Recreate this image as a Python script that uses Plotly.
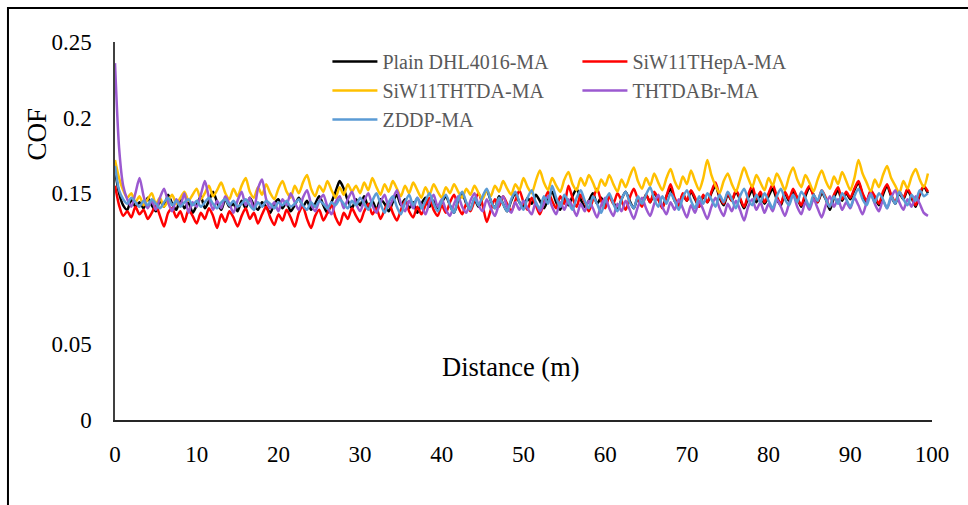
import plotly.graph_objects as go

# Sliding distance, sampled every 0.5 m
distance_m = [i * 0.5 for i in range(200)]

series_names = ["Plain DHL4016-MA", "SiW11THepA-MA", "SiW11THTDA-MA", "THTDABr-MA", "ZDDP-MA"]
series_colors = ["#000000", "#FF0000", "#FFC000", "#9B59D0", "#5B9BD5"]
# which legend column each series is listed in
series_legend = ["legend", "legend2", "legend", "legend2", "legend"]

cof_plain = [
    0.165, 0.150, 0.142, 0.139, 0.146, 0.141, 0.144, 0.140, 0.147, 0.142, 0.138, 0.145, 0.141, 0.149, 0.143, 0.139, 0.146, 0.140, 0.144, 0.137,
    0.142, 0.148, 0.140, 0.145, 0.151, 0.144, 0.139, 0.146, 0.141, 0.143, 0.138, 0.145, 0.140, 0.147, 0.142, 0.139, 0.144, 0.141, 0.137, 0.143,
    0.146, 0.140, 0.144, 0.138, 0.142, 0.147, 0.141, 0.145, 0.139, 0.143, 0.148, 0.142, 0.137, 0.144, 0.151, 0.158, 0.153, 0.145, 0.140, 0.146,
    0.142, 0.148, 0.141, 0.145, 0.139, 0.146, 0.143, 0.138, 0.144, 0.149, 0.142, 0.146, 0.140, 0.144, 0.137, 0.143, 0.147, 0.141, 0.145, 0.139,
    0.144, 0.148, 0.142, 0.137, 0.145, 0.150, 0.143, 0.139, 0.146, 0.141, 0.147, 0.152, 0.145, 0.140, 0.148, 0.143, 0.138, 0.145, 0.150, 0.144,
    0.141, 0.147, 0.143, 0.149, 0.145, 0.140, 0.146, 0.151, 0.144, 0.139, 0.147, 0.142, 0.148, 0.153, 0.146, 0.141, 0.145, 0.150, 0.143, 0.147,
    0.142, 0.148, 0.144, 0.139, 0.146, 0.151, 0.145, 0.140, 0.147, 0.143, 0.149, 0.144, 0.150, 0.146, 0.141, 0.148, 0.153, 0.145, 0.142, 0.149,
    0.145, 0.151, 0.146, 0.141, 0.148, 0.144, 0.150, 0.155, 0.147, 0.142, 0.149, 0.145, 0.151, 0.146, 0.140, 0.147, 0.152, 0.144, 0.149, 0.143,
    0.148, 0.153, 0.146, 0.142, 0.150, 0.145, 0.151, 0.147, 0.141, 0.148, 0.154, 0.149, 0.144, 0.150, 0.146, 0.139, 0.147, 0.152, 0.145, 0.150,
    0.146, 0.152, 0.157, 0.149, 0.144, 0.151, 0.147, 0.142, 0.149, 0.155, 0.148, 0.143, 0.150, 0.146, 0.152, 0.147, 0.141, 0.149, 0.154, 0.150,
]

cof_hepa = [
    0.155, 0.142, 0.135, 0.138, 0.134, 0.141, 0.136, 0.139, 0.133, 0.137, 0.142, 0.135, 0.128, 0.137, 0.140, 0.134, 0.138, 0.131, 0.139, 0.135,
    0.130, 0.137, 0.133, 0.140, 0.135, 0.127, 0.136, 0.131, 0.138, 0.134, 0.128, 0.135, 0.140, 0.133, 0.137, 0.130, 0.136, 0.141, 0.134, 0.129,
    0.136, 0.132, 0.139, 0.134, 0.128, 0.137, 0.141, 0.133, 0.127, 0.135, 0.139, 0.132, 0.137, 0.142, 0.134, 0.129, 0.137, 0.133, 0.140, 0.135,
    0.131, 0.138, 0.143, 0.136, 0.140, 0.133, 0.139, 0.144, 0.137, 0.132, 0.139, 0.145, 0.138, 0.134, 0.141, 0.136, 0.142, 0.147, 0.139, 0.135,
    0.142, 0.137, 0.144, 0.149, 0.141, 0.136, 0.143, 0.138, 0.145, 0.150, 0.142, 0.131, 0.139, 0.146, 0.141, 0.148, 0.143, 0.138, 0.145, 0.152,
    0.144, 0.139, 0.147, 0.142, 0.136, 0.144, 0.151, 0.145, 0.140, 0.148, 0.143, 0.155, 0.147, 0.141, 0.149, 0.144, 0.138, 0.146, 0.153, 0.145,
    0.140, 0.148, 0.143, 0.150, 0.145, 0.139, 0.147, 0.153, 0.146, 0.141, 0.149, 0.144, 0.151, 0.146, 0.140, 0.148, 0.156, 0.147, 0.142, 0.150,
    0.145, 0.152, 0.147, 0.141, 0.149, 0.144, 0.151, 0.157, 0.148, 0.143, 0.150, 0.145, 0.152, 0.147, 0.141, 0.149, 0.155, 0.146, 0.151, 0.144,
    0.150, 0.156, 0.148, 0.143, 0.151, 0.146, 0.153, 0.147, 0.142, 0.150, 0.155, 0.148, 0.144, 0.152, 0.147, 0.141, 0.149, 0.154, 0.146, 0.151,
    0.147, 0.153, 0.158, 0.150, 0.145, 0.152, 0.148, 0.143, 0.151, 0.156, 0.149, 0.144, 0.151, 0.147, 0.153, 0.148, 0.142, 0.150, 0.155, 0.151,
]

cof_thtda = [
    0.172, 0.160, 0.152, 0.147, 0.150, 0.144, 0.148, 0.142, 0.146, 0.150, 0.143, 0.147, 0.141, 0.145, 0.149, 0.143, 0.147, 0.151, 0.145, 0.149,
    0.153, 0.146, 0.150, 0.155, 0.148, 0.152, 0.157, 0.150, 0.146, 0.153, 0.148, 0.155, 0.160, 0.151, 0.147, 0.154, 0.149, 0.156, 0.150, 0.146,
    0.153, 0.158, 0.151, 0.147, 0.155, 0.150, 0.157, 0.162, 0.153, 0.148, 0.155, 0.151, 0.158, 0.152, 0.147, 0.154, 0.149, 0.156, 0.151, 0.155,
    0.150, 0.157, 0.152, 0.160, 0.154, 0.149, 0.156, 0.151, 0.158, 0.153, 0.148, 0.155, 0.150, 0.157, 0.152, 0.147, 0.154, 0.149, 0.156, 0.151,
    0.147, 0.154, 0.150, 0.156, 0.151, 0.147, 0.153, 0.149, 0.155, 0.150, 0.146, 0.152, 0.148, 0.155, 0.151, 0.158, 0.153, 0.149, 0.156, 0.152,
    0.160, 0.154, 0.150, 0.158, 0.165, 0.157, 0.152, 0.160, 0.155, 0.151, 0.159, 0.164, 0.156, 0.152, 0.160, 0.155, 0.162, 0.157, 0.151, 0.159,
    0.155, 0.162, 0.156, 0.151, 0.159, 0.154, 0.161, 0.167, 0.158, 0.153, 0.160, 0.155, 0.163, 0.157, 0.152, 0.160, 0.166, 0.158, 0.153, 0.161,
    0.156, 0.165, 0.158, 0.152, 0.160, 0.172, 0.162, 0.155, 0.150, 0.158, 0.163, 0.156, 0.151, 0.159, 0.167, 0.160, 0.154, 0.162, 0.157, 0.152,
    0.160, 0.155, 0.163, 0.158, 0.152, 0.161, 0.167, 0.159, 0.154, 0.162, 0.157, 0.151, 0.159, 0.165, 0.158, 0.153, 0.161, 0.156, 0.164, 0.158,
    0.152, 0.160, 0.172, 0.163, 0.157, 0.151, 0.159, 0.154, 0.162, 0.168, 0.160, 0.155, 0.150, 0.158, 0.153, 0.161, 0.166, 0.159, 0.154, 0.163,
]

cof_thtdabr = [
    0.236, 0.180, 0.155, 0.146, 0.141, 0.150, 0.160, 0.148, 0.140, 0.145, 0.139, 0.147, 0.153, 0.144, 0.138, 0.146, 0.142, 0.150, 0.137, 0.144,
    0.141, 0.149, 0.158, 0.147, 0.139, 0.145, 0.140, 0.148, 0.143, 0.137, 0.145, 0.151, 0.142, 0.147, 0.139, 0.153, 0.159, 0.146, 0.140, 0.144,
    0.138, 0.146, 0.142, 0.150, 0.144, 0.139, 0.147, 0.152, 0.143, 0.138, 0.145, 0.149, 0.141, 0.136, 0.144, 0.148, 0.140, 0.146, 0.151, 0.143,
    0.138, 0.145, 0.150, 0.142, 0.137, 0.144, 0.149, 0.141, 0.146, 0.152, 0.143, 0.138, 0.145, 0.140, 0.147, 0.142, 0.136, 0.144, 0.149, 0.141,
    0.146, 0.139, 0.135, 0.143, 0.148, 0.141, 0.137, 0.145, 0.150, 0.142, 0.138, 0.146, 0.140, 0.135, 0.143, 0.148, 0.141, 0.137, 0.144, 0.139,
    0.145, 0.140, 0.136, 0.144, 0.138, 0.143, 0.148, 0.141, 0.136, 0.144, 0.139, 0.146, 0.141, 0.135, 0.143, 0.138, 0.145, 0.140, 0.134, 0.142,
    0.147, 0.140, 0.135, 0.143, 0.138, 0.145, 0.139, 0.133, 0.141, 0.147, 0.140, 0.135, 0.143, 0.149, 0.141, 0.136, 0.144, 0.139, 0.146, 0.140,
    0.134, 0.142, 0.137, 0.145, 0.139, 0.133, 0.141, 0.147, 0.140, 0.135, 0.143, 0.138, 0.145, 0.139, 0.132, 0.141, 0.146, 0.139, 0.144, 0.137,
    0.143, 0.138, 0.146, 0.141, 0.135, 0.143, 0.149, 0.141, 0.136, 0.144, 0.139, 0.146, 0.140, 0.134, 0.142, 0.148, 0.141, 0.146, 0.139, 0.144,
    0.140, 0.147, 0.142, 0.136, 0.144, 0.150, 0.143, 0.138, 0.145, 0.140, 0.147, 0.152, 0.144, 0.139, 0.146, 0.141, 0.148, 0.143, 0.137, 0.135,
]

cof_zddp = [
    0.168, 0.152, 0.146, 0.143, 0.147, 0.144, 0.141, 0.145, 0.142, 0.146, 0.143, 0.140, 0.144, 0.147, 0.142, 0.145, 0.141, 0.144, 0.146, 0.142,
    0.145, 0.141, 0.144, 0.147, 0.143, 0.140, 0.144, 0.146, 0.142, 0.145, 0.141, 0.143, 0.146, 0.142, 0.139, 0.144, 0.141, 0.145, 0.143, 0.140,
    0.144, 0.142, 0.145, 0.141, 0.143, 0.146, 0.142, 0.139, 0.144, 0.141, 0.145, 0.143, 0.140, 0.144, 0.142, 0.146, 0.143, 0.140, 0.145, 0.142,
    0.147, 0.143, 0.139, 0.145, 0.150, 0.143, 0.137, 0.144, 0.148, 0.141, 0.136, 0.144, 0.149, 0.142, 0.147, 0.140, 0.145, 0.150, 0.143, 0.138,
    0.145, 0.149, 0.142, 0.137, 0.146, 0.151, 0.144, 0.139, 0.147, 0.142, 0.148, 0.153, 0.145, 0.140, 0.147, 0.143, 0.138, 0.146, 0.151, 0.144,
    0.139, 0.147, 0.152, 0.144, 0.140, 0.148, 0.143, 0.155, 0.147, 0.141, 0.149, 0.144, 0.139, 0.147, 0.152, 0.145, 0.140, 0.148, 0.143, 0.137,
    0.145, 0.150, 0.143, 0.138, 0.146, 0.151, 0.144, 0.140, 0.148, 0.143, 0.149, 0.154, 0.146, 0.141, 0.148, 0.143, 0.150, 0.145, 0.139, 0.147,
    0.152, 0.145, 0.140, 0.148, 0.143, 0.150, 0.146, 0.141, 0.149, 0.144, 0.151, 0.146, 0.140, 0.148, 0.153, 0.146, 0.142, 0.149, 0.144, 0.150,
    0.145, 0.140, 0.148, 0.153, 0.146, 0.142, 0.149, 0.144, 0.151, 0.147, 0.141, 0.149, 0.145, 0.152, 0.146, 0.141, 0.148, 0.143, 0.150, 0.146,
    0.141, 0.148, 0.153, 0.146, 0.142, 0.149, 0.144, 0.150, 0.146, 0.140, 0.148, 0.143, 0.151, 0.146, 0.142, 0.149, 0.145, 0.152, 0.148, 0.150,
]

series_values = [cof_plain, cof_hepa, cof_thtda, cof_thtdabr, cof_zddp]

x_ticks = [0, 10, 20, 30, 40, 50, 60, 70, 80, 90, 100]
y_ticks = [0, 0.05, 0.1, 0.15, 0.2, 0.25]
y_tick_labels = ["0", "0.05", "0.1", "0.15", "0.2", "0.25"]

SERIF = "Liberation Serif"

fig = go.Figure()
for name, color, values, lg in zip(series_names, series_colors, series_values, series_legend):
    fig.add_trace(go.Scatter(
        x=distance_m, y=values, mode="lines", name=name, legend=lg,
        line=dict(color=color, width=2.5, shape="spline", smoothing=0.7),
    ))

legend_common = dict(
    orientation="v", yanchor="top", xanchor="left", y=1.0,
    font=dict(family=SERIF, size=20, color="#595959"),
    bgcolor="rgba(0,0,0,0)", itemwidth=45, tracegroupgap=0,
)

fig.update_layout(
    width=968, height=505,
    margin=dict(l=115, r=36, t=42, b=85),
    paper_bgcolor="white", plot_bgcolor="white",
    font=dict(family=SERIF, color="black", size=23),
    showlegend=True,
    legend=dict(x=0.26, **legend_common),
    legend2=dict(x=0.566, **legend_common),
    xaxis=dict(
        range=[0, 100], tickvals=x_ticks, showgrid=False, zeroline=False,
        showline=True, linecolor="#262626", linewidth=1.5, ticks="",
        ticklabelstandoff=13, tickfont=dict(family=SERIF, size=23, color="black"),
    ),
    yaxis=dict(
        range=[0, 0.25], tickvals=y_ticks, ticktext=y_tick_labels, showgrid=False,
        zeroline=False, showline=True, linecolor="#404040", linewidth=1.5, ticks="",
        ticklabelstandoff=17, tickfont=dict(family=SERIF, size=23, color="black"),
    ),
    shapes=[dict(
        type="rect", xref="paper", yref="paper",
        x0=-0.131, x1=1.2, y0=-0.4, y1=1.09,
        line=dict(color="black", width=2), fillcolor="rgba(0,0,0,0)", layer="below",
    )],
    annotations=[
        dict(text="COF", xref="paper", yref="paper", x=-0.096, y=0.757,
             textangle=-90, showarrow=False, font=dict(family=SERIF, size=27, color="black"),
             xanchor="center", yanchor="middle"),
        dict(text="Distance (m)", xref="paper", yref="paper", x=0.485, y=0.14,
             showarrow=False, font=dict(family=SERIF, size=26.5, color="black"),
             xanchor="center", yanchor="middle"),
    ],
)

fig.write_html("out.html")
